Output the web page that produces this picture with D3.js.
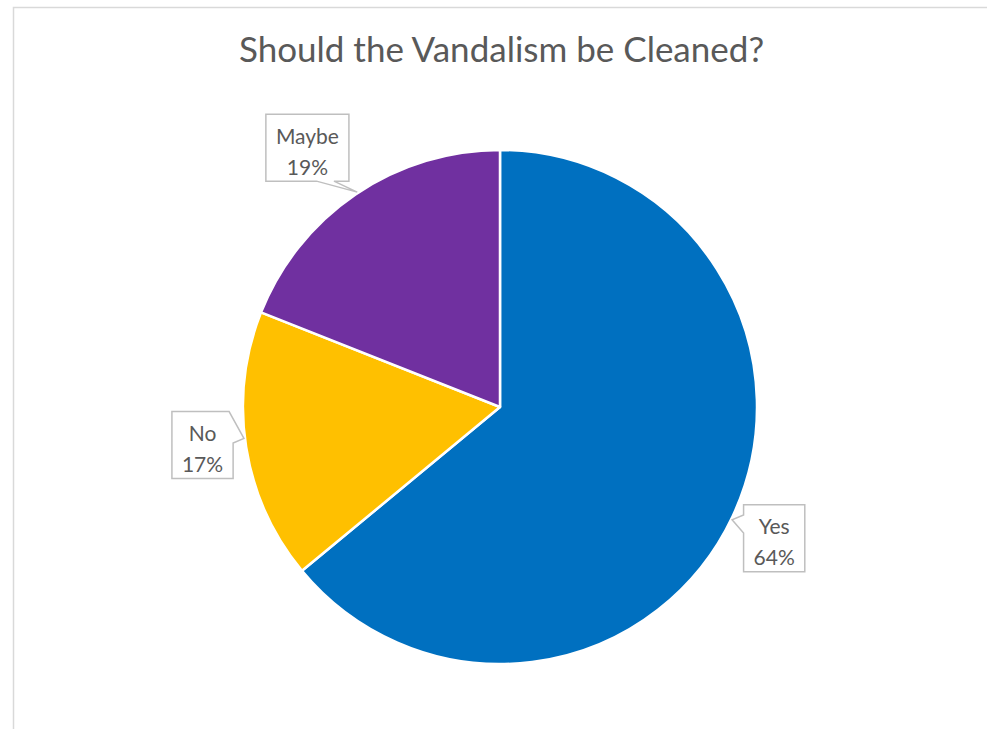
<!DOCTYPE html>
<html>
<head>
<meta charset="utf-8">
<script src="https://cdn.jsdelivr.net/npm/d3@7"></script>
<style>
  html, body { margin: 0; padding: 0; background: #fff; }
  svg { display: block; }
</style>
</head>
<body>
<svg id="chart" width="987" height="729"></svg>
<script>
// Survey answers and their shares (percent)
const categories = ["Yes", "No", "Maybe"];
const values = [64, 17, 19];
const colors = ["#0070C0", "#FFC000", "#7030A0"];
const title = "Should the Vandalism be Cleaned?";

const W = 987, H = 729;
const svg = d3.select("#chart");
const font = "Lato, 'Open Sans', sans-serif";
const textColor = "#595959";

// chart frame
svg.append("rect")
  .attr("x", 13.5).attr("y", 7.5)
  .attr("width", W + 20).attr("height", H + 20)
  .attr("fill", "none").attr("stroke", "#D9D9D9").attr("stroke-width", 1.5);

// title
svg.append("text")
  .attr("x", 501.5).attr("y", 62)
  .attr("text-anchor", "middle")
  .attr("font-family", font).attr("font-size", 35)
  .attr("fill", textColor)
  .text(title);

const cx = 500, cy = 407, r = 257;
const total = d3.sum(values);
const data = categories.map((c, i) => ({ name: c, value: values[i], color: colors[i] }));

const pie = d3.pie().sort(null).value(d => d.value);
const arcs = pie(data);
const arc = d3.arc().innerRadius(0).outerRadius(r);

const g = svg.append("g").attr("transform", `translate(${cx},${cy})`);
g.selectAll("path.slice")
  .data(arcs)
  .join("path")
  .attr("class", "slice")
  .attr("d", arc)
  .attr("fill", d => d.data.color)
  .attr("stroke", "#fff")
  .attr("stroke-width", 2.5)
  .attr("stroke-linejoin", "round");

// callout placement: distance factor, angle nudge (deg) for the box,
// tip angle nudge, side carrying the pointer and its base span along that side
const calloutLayout = {
  Yes:   { k: 1.183, da: 0.4,  dt: 0.7, side: "L", span: [0.15, 0.42] },
  No:    { k: 1.167, da: 1.7,  dt: 2.0, side: "R", span: [0.0, 0.47] },
  Maybe: { k: 1.257, da: -2.4, dt: 0.6, side: "B", span: [0.61, 0.82] }
};
const rad = Math.PI / 180;
const fontSize = 21, padX = 10, boxH = 67;

function polar(angle, dist) {
  return [Math.sin(angle) * dist, -Math.cos(angle) * dist];
}

function calloutPath(x0, y0, x1, y1, tx, ty, side, span) {
  const w = x1 - x0, h = y1 - y0;
  let p;
  if (side === "B") {
    const a = x0 + span[0] * w, b = x0 + span[1] * w;
    p = [[x0, y0], [x1, y0], [x1, y1], [b, y1], [tx, ty], [a, y1], [x0, y1]];
  } else if (side === "T") {
    const a = x0 + span[0] * w, b = x0 + span[1] * w;
    p = [[x0, y0], [a, y0], [tx, ty], [b, y0], [x1, y0], [x1, y1], [x0, y1]];
  } else if (side === "R") {
    const a = y0 + span[0] * h, b = y0 + span[1] * h;
    p = a === y0
      ? [[x0, y0], [x1 - 4, y0], [tx, ty], [x1, b], [x1, y1], [x0, y1]]
      : [[x0, y0], [x1, y0], [x1, a], [tx, ty], [x1, b], [x1, y1], [x0, y1]];
  } else {
    const a = y0 + span[0] * h, b = y0 + span[1] * h;
    p = [[x0, y0], [x1, y0], [x1, y1], [x0, y1], [x0, b], [tx, ty], [x0, a]];
  }
  return "M" + p.map(q => q.join(",")).join("L") + "Z";
}

arcs.forEach(a => {
  const L = calloutLayout[a.data.name];
  const mid = (a.startAngle + a.endAngle) / 2;
  const [lx, ly] = polar(mid + L.da * rad, r * L.k);
  const [tx, ty] = polar(mid + L.dt * rad, r + 1);
  const lg = g.append("g");
  const pct = Math.round(a.data.value / total * 100) + "%";
  const t1 = lg.append("text").attr("x", lx).attr("y", ly - 4)
    .attr("text-anchor", "middle").attr("font-family", font).attr("font-size", fontSize)
    .attr("fill", textColor).text(a.data.name);
  const t2 = lg.append("text").attr("x", lx).attr("y", ly + 27)
    .attr("text-anchor", "middle").attr("font-family", font).attr("font-size", fontSize)
    .attr("fill", textColor).text(pct);
  const w = Math.max(t1.node().getComputedTextLength(), t2.node().getComputedTextLength()) + 2 * padX;
  const x0 = lx - w / 2, x1 = lx + w / 2;
  const y0 = ly - boxH / 2, y1 = ly + boxH / 2;
  lg.insert("path", "text")
    .attr("d", calloutPath(x0, y0, x1, y1, tx, ty, L.side, L.span))
    .attr("fill", "#fff").attr("stroke", "#BFBFBF").attr("stroke-width", 1.5);
});
</script>
</body>
</html>
